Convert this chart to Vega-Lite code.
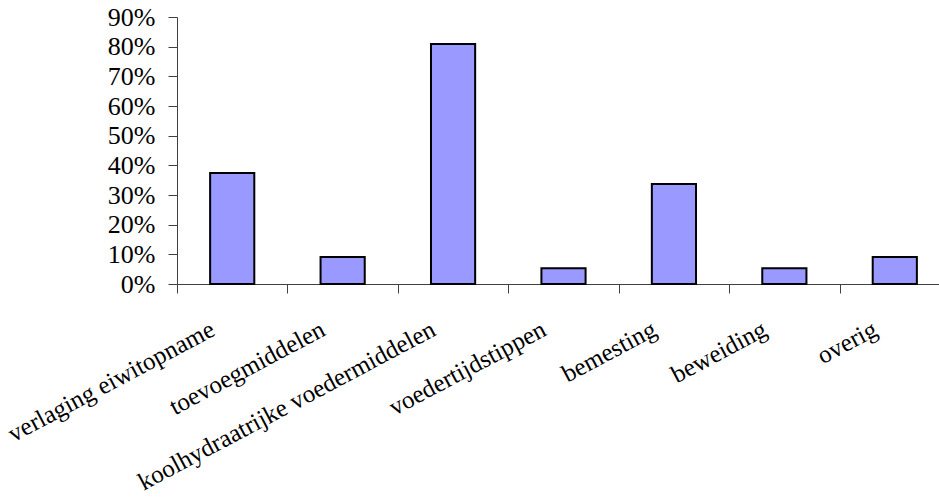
{
  "$schema": "https://vega.github.io/schema/vega-lite/v6.json",
  "width": 762,
  "height": 267,
  "autosize": {"type": "none"},
  "padding": {"left": 177, "top": 17, "right": 0, "bottom": 218},
  "background": "white",
  "data": {
    "values": [
      {"categorie": "verlaging eiwitopname", "aandeel": 0.374},
      {"categorie": "toevoegmiddelen", "aandeel": 0.091},
      {"categorie": "koolhydraatrijke voedermiddelen", "aandeel": 0.809},
      {"categorie": "voedertijdstippen", "aandeel": 0.053},
      {"categorie": "bemesting", "aandeel": 0.337},
      {"categorie": "beweiding", "aandeel": 0.053},
      {"categorie": "overig", "aandeel": 0.091}
    ]
  },
  "mark": {"type": "bar", "fill": "#9999FF", "stroke": "#000000", "strokeWidth": 2, "width": {"band": 0.4}},
  "encoding": {
    "x": {
      "field": "categorie",
      "type": "nominal",
      "sort": null,
      "scale": {"range": [0, 773], "paddingInner": 0, "paddingOuter": 0},
      "axis": {
        "title": null,
        "tickBand": "extent",
        "tickSize": 9,
        "tickColor": "#404040",
        "domainColor": "#404040",
        "labelAngle": -28,
        "labelAlign": "right",
        "labelBaseline": "middle",
        "labelPadding": 34,
        "labelOffset": -20,
        "labelFont": "Liberation Serif",
        "labelFontSize": 25,
        "labelColor": "#000000",
        "labelLimit": 0,
        "labelOverlap": false
      }
    },
    "y": {
      "field": "aandeel",
      "type": "quantitative",
      "scale": {"domain": [0, 0.9]},
      "axis": {
        "title": null,
        "grid": false,
        "values": [0, 0.1, 0.2, 0.3, 0.4, 0.5, 0.6, 0.7, 0.8, 0.9],
        "format": ".0%",
        "tickSize": 9,
        "tickColor": "#404040",
        "domainColor": "#404040",
        "labelPadding": 13,
        "labelFont": "Liberation Serif",
        "labelFontSize": 26,
        "labelColor": "#000000",
        "labelOverlap": false
      }
    }
  },
  "config": {"view": {"stroke": null}}
}
